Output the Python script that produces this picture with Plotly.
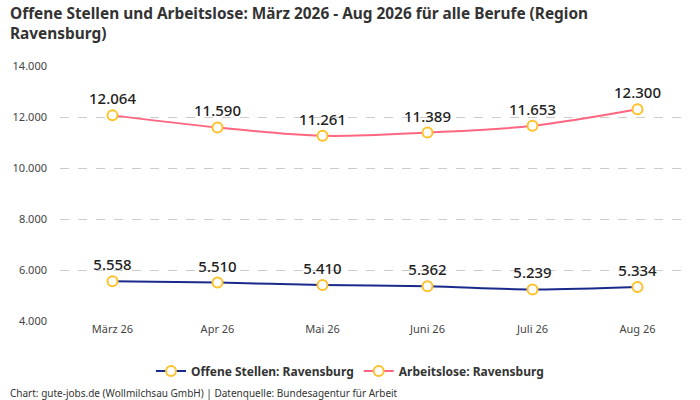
import plotly.graph_objects as go

months = ["März 26", "Apr 26", "Mai 26", "Juni 26", "Juli 26", "Aug 26"]
offene = [5558, 5510, 5410, 5362, 5239, 5334]
arbeitslose = [12064, 11590, 11261, 11389, 11653, 12300]
yticks = [4000, 6000, 8000, 10000, 12000, 14000]

def fmt(v):
    return f"{v:,}".replace(",", ".")

FONT = "Noto Sans"
fig = go.Figure()
fig.add_trace(go.Scatter(
    x=months, y=offene, name="<b>Offene Stellen: Ravensburg</b>",
    mode="lines+markers+text", line=dict(color="#1a2a8c", width=2, shape="spline"),
    marker=dict(size=10, color="white", line=dict(color="#fdc12a", width=2)),
    text=[fmt(v) for v in offene], textposition="top center",
    textfont=dict(size=15, color="#222", family=FONT, weight=500),
))
fig.add_trace(go.Scatter(
    x=months, y=arbeitslose, name="<b>Arbeitslose: Ravensburg</b>",
    mode="lines+markers+text", line=dict(color="#ff6680", width=2, shape="spline"),
    marker=dict(size=10, color="white", line=dict(color="#fdc12a", width=2)),
    text=[fmt(v) for v in arbeitslose], textposition="top center",
    textfont=dict(size=15, color="#222", family=FONT, weight=500),
))
fig.update_layout(
    width=700, height=400,
    margin=dict(l=60, r=10, t=66, b=79, autoexpand=False),
    paper_bgcolor="white", plot_bgcolor="white",
    font=dict(family=FONT, color="#333"),
    xaxis=dict(range=[-0.5, 5.5], showgrid=False, showline=False, ticks="",
               tickfont=dict(size=11, color="#444"), automargin=False),
    yaxis=dict(range=[4000, 14000], tickvals=yticks, ticktext=[fmt(v) for v in yticks],
               showgrid=True, gridcolor="#cccccc", griddash="dash", zeroline=False,
               tickfont=dict(size=11, color="#444"), ticklabelstandoff=12, automargin=False),
    legend=dict(orientation="h", xref="container", x=0.5, xanchor="center",
                y=-0.196, yanchor="middle",
                font=dict(size=12, color="#333", family=FONT), traceorder="normal"),
    showlegend=True,
    annotations=[
        dict(
            text="<b>Offene Stellen und Arbeitslose: März 2026 - Aug 2026 für alle Berufe (Region<br>Ravensburg)</b>",
            xref="paper", yref="paper", x=-0.083, y=(321 - 1) / 255, xanchor="left", yanchor="top",
            align="left", showarrow=False, font=dict(size=15.4, color="#333", family=FONT),
        ),
        dict(
            text="Chart: gute-jobs.de (Wollmilchsau GmbH) | Datenquelle: Bundesagentur für Arbeit",
            xref="paper", yref="paper", x=-0.083, y=-0.282, xanchor="left", yanchor="middle",
            showarrow=False, font=dict(size=10, color="#333", family=FONT),
        ),
    ],
)
fig.write_html("out.html", post_script="document.body.style.margin='0';",
               config={"displayModeBar": False})
